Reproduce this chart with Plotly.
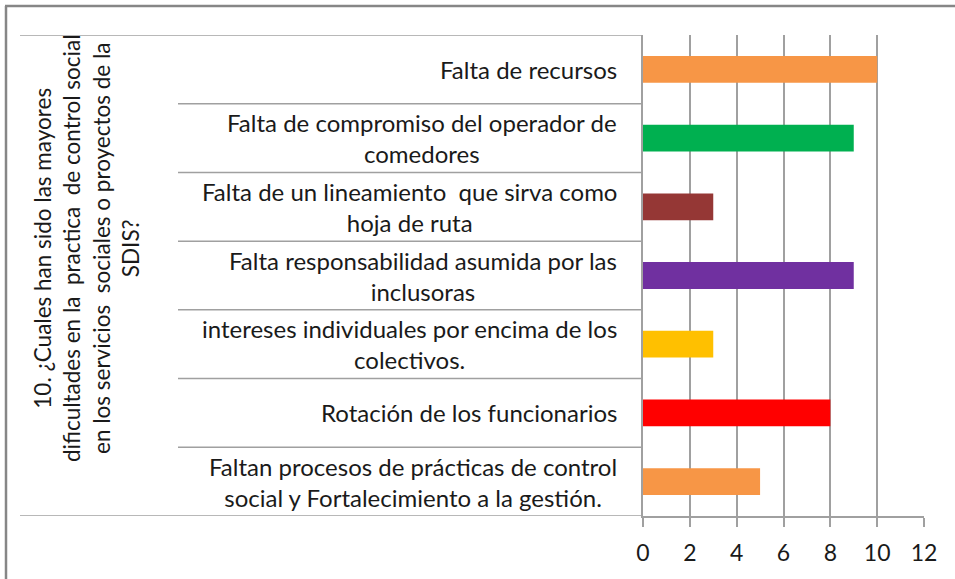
import plotly.graph_objects as go

categories = [
    "Falta de recursos",
    "Falta de compromiso del operador de<br>comedores",
    "Falta de un lineamiento  que sirva como<br>hoja de ruta",
    "Falta responsabilidad asumida por las<br>inclusoras",
    "intereses individuales por encima de los<br>colectivos.",
    "Rotación de los funcionarios",
    "Faltan procesos de prácticas de control<br>social y Fortalecimiento a la gestión.",
]
values = [10, 9, 3, 9, 3, 8, 5]
bar_colors = ["#F79646", "#00B050", "#953735", "#7030A0", "#FFC000", "#FF0000", "#F79646"]
tick_vals = [0, 2, 4, 6, 8, 10, 12]
title_text = ("10. ¿Cuales han sido las mayores<br>dificultades en la  practica  de control social"
              "<br>en los servicios  sociales o proyectos de la<br>SDIS?")

W, H = 955, 579
L, R, T, B = 643, 31, 35, 63
pw, ph = W - L - R, H - T - B

def px(x):
    return (x - L) / pw

def py(y):
    return (H - B - y) / ph

idx = list(range(len(categories)))
FONT = "Lato"
grid = "#A0A0A0"

fig = go.Figure()
fig.add_trace(go.Bar(
    y=idx, x=values, orientation="h",
    marker=dict(color=bar_colors, line=dict(width=0)),
    width=0.39, hoverinfo="x",
))

shapes = []
for k in range(1, len(categories)):
    shapes.append(dict(type="line", xref="paper", yref="y", x0=px(178), x1=0,
                       y0=k - 0.5, y1=k - 0.5, line=dict(color=grid, width=1.5)))
shapes.append(dict(type="line", xref="paper", yref="y", x0=px(20), x1=0,
                   y0=-0.5, y1=-0.5, line=dict(color=grid, width=1.5)))
shapes.append(dict(type="line", xref="paper", yref="y", x0=px(20), x1=0,
                   y0=len(categories) - 0.5, y1=len(categories) - 0.5,
                   line=dict(color=grid, width=1.5)))
# outer frame: left and top edges only visible
shapes.append(dict(type="line", xref="paper", yref="paper",
                   x0=px(6), x1=px(6), y0=py(6), y1=py(590),
                   line=dict(color="#868686", width=2.5)))
shapes.append(dict(type="line", xref="paper", yref="paper",
                   x0=px(5), x1=px(1000), y0=py(6), y1=py(6),
                   line=dict(color="#868686", width=2.5)))

annotations = []
for i, c in enumerate(categories):
    annotations.append(dict(xref="paper", yref="y", x=px(619), y=i, text=c,
                            showarrow=False, xanchor="right", yanchor="middle",
                            align="center", font=dict(family=FONT, size=24, color="#1a1a1a")))
annotations.append(dict(xref="paper", yref="paper", x=px(86), y=py(249), text=title_text,
                        showarrow=False, textangle=-90, align="center",
                        xanchor="center", yanchor="middle",
                        font=dict(family=FONT, size=22.5, color="#1a1a1a")))

fig.update_layout(
    width=W, height=H, autosize=False,
    margin=dict(l=L, r=R, t=T, b=B, pad=0),
    paper_bgcolor="white", plot_bgcolor="white",
    showlegend=False,
    shapes=shapes, annotations=annotations,
    xaxis=dict(range=[0, 12], tickvals=tick_vals, ticktext=[str(v) for v in tick_vals],
               showgrid=True, gridcolor=grid, gridwidth=1.5, zeroline=False,
               showline=True, linecolor=grid, linewidth=1.5,
               ticks="outside", ticklen=9, tickcolor=grid, tickwidth=1.5,
               ticklabelstandoff=7,
               tickfont=dict(family=FONT, size=23, color="#1a1a1a")),
    yaxis=dict(range=[len(categories) - 0.5, -0.5], showticklabels=False,
               showgrid=False, zeroline=False, showline=True, linecolor=grid,
               linewidth=1.5, ticks=""),
)

fig.write_html("out.html", config={"displayModeBar": False})
with open("out.html", encoding="utf-8") as f:
    html = f.read()
html = html.replace("<body>", '<body style="margin:0;padding:0;overflow:hidden">', 1)
with open("out.html", "w", encoding="utf-8") as f:
    f.write(html)
